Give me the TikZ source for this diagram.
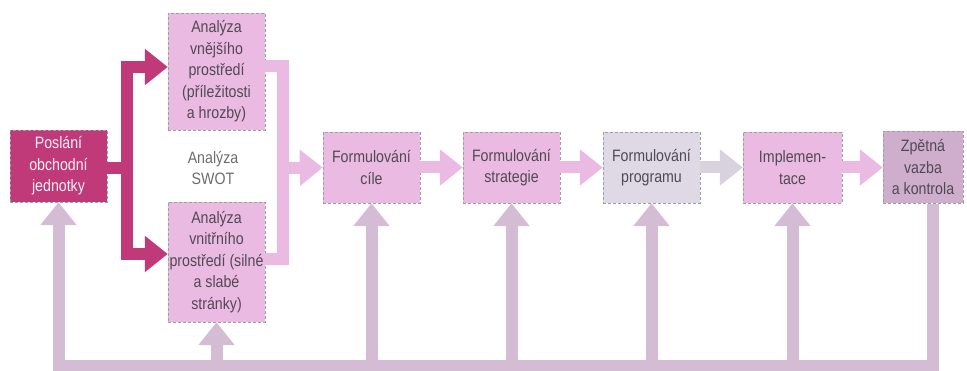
\documentclass[tikz,border=0pt]{standalone}
\usepackage{fontspec}
\setmainfont{Liberation Sans}[FakeStretch=0.86]
\usetikzlibrary{arrows.meta}

\definecolor{mission}{RGB}{192,58,122}
\definecolor{pinkbox}{RGB}{234,186,226}
\definecolor{greybox}{RGB}{223,217,229}
\definecolor{mauvebox}{RGB}{207,174,205}
\definecolor{loopbar}{RGB}{213,188,213}
\definecolor{txtgrey}{RGB}{80,74,84}

\begin{document}
\begin{tikzpicture}[x=1pt, y=-1pt,
    every node/.style={font=\fontsize{16.5}{21.5}\selectfont, text=txtgrey, align=center, inner sep=0pt},
    box/.style={draw=gray!75, densely dashed, line width=0.4pt, minimum width=97pt, minimum height=71pt},
    blockarr/.style={line width=12pt, line join=miter, -{Triangle[width=35pt,length=23pt]}},
    bar/.style={line width=12pt, line join=miter}]
    \useasboundingbox (0,0) rectangle (967,371);
    \node[box, fill=mission, text=white!92!mission, minimum height=72pt] (poslani) at (58.5,166) {Poslání\\obchodní\\jednotky};
    \node[box, fill=pinkbox, minimum height=117pt] (vnejsi) at (216.5,71.5) {Analýza\\vnějšího\\prostředí\\(příležitosti\\a hrozby)};
    \node[box, fill=pinkbox, minimum height=120pt] (vnitrni) at (216.5,262) {Analýza\\vnitřního\\prostředí (silné\\a slabé\\stránky)};
    \node[text=gray!85!black] (swot) at (213,168) {Analýza\\SWOT};
    \node[box, fill=pinkbox] (cile) at (371.5,167.5) {Formulování\\cíle};
    \node[box, fill=pinkbox] (strategie) at (511.5,167.5) {Formulování\\strategie};
    \node[box, fill=greybox] (program) at (651.5,167.5) {Formulování\\programu};
    \node[box, fill=pinkbox, minimum width=99pt] (impl) at (792.5,167.5) {Implemen-\\tace};
    \node[box, fill=mauvebox, minimum width=80pt, minimum height=72pt] (zpetna) at (923,167.5) {Zpětná\\vazba\\a kontrola};
    % SWOT
    \coordinate (split) at (126.5,168);
    \draw[bar, mission] (poslani.east |- split) -- (split);
    \draw[blockarr, mission] (split) |- ([yshift=4.5pt]vnejsi.west);
    \draw[blockarr, mission] (split) |- ([yshift=8pt]vnitrni.west);
    \coordinate (merge) at (283,168);
    \draw[bar, pinkbox] ([yshift=5.5pt]vnejsi.east) -| (merge) |- ([yshift=3pt]vnitrni.east);
    \draw[blockarr, pinkbox] (merge) -- (cile.west);
    % chain
    \draw[blockarr, pinkbox] (cile) -- (strategie);
    \draw[blockarr, pinkbox] (strategie) -- (program);
    \draw[blockarr, greybox!92!gray] (program) -- (impl);
    \draw[blockarr, pinkbox] (impl) -- (zpetna);
    % feedback
    \coordinate (fbline) at (933,366);
    \draw[blockarr, loopbar] ([xshift=10pt]zpetna.south) |- (poslani.south |- fbline) -- (poslani.south);
    \foreach \n in {vnitrni, cile, strategie, program, impl}
        \draw[blockarr, loopbar] (\n.south |- fbline) -- (\n.south);
\end{tikzpicture}
\end{document}
